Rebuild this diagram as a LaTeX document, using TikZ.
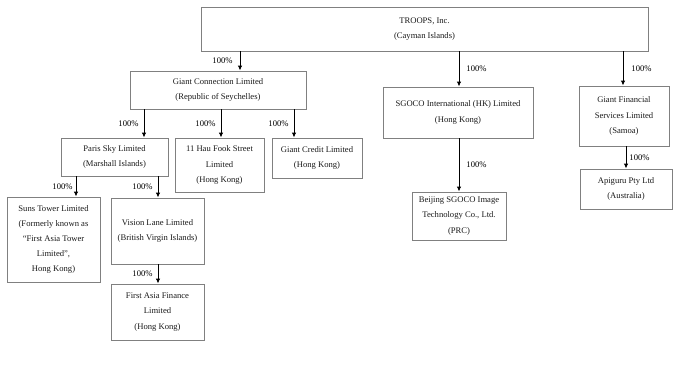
\documentclass[tikz,border=0pt]{standalone}
\usepackage{fontspec}
\setmainfont{Liberation Serif}
\usetikzlibrary{arrows.meta}
\begin{document}
\begin{tikzpicture}[x=1pt,y=-1pt,
  box/.style={draw=black!50, line width=0.9pt, rectangle, inner sep=0pt, align=center,
    font=\fontsize{8.6}{15.2}\selectfont, text=black!90},
  arr/.style={-{Latex[length=5pt,width=4.5pt]}, line width=0.9pt, black},
  lab/.style={font=\fontsize{8.6}{10}\selectfont, inner sep=0pt}]
\useasboundingbox (0,0) rectangle (677,380);
\node[box, minimum width=447, minimum height=44] (troops) at (424.5,29) {TROOPS, Inc.\\(Cayman Islands)};
\node[box, minimum width=176, minimum height=38] (gc) at (218,90) {Giant Connection Limited\\(Republic of Seychelles)};
\node[box, minimum width=107, minimum height=38] (paris) at (114.5,157) {Paris Sky Limited\\(Marshall Islands)};
\node[box, minimum width=89, minimum height=54] (hau) at (219.5,165) {11 Hau Fook Street\\Limited\\(Hong Kong)};
\node[box, minimum width=90, minimum height=40] (credit) at (317,158) {Giant Credit Limited\\(Hong Kong)};
\node[box, minimum width=93, minimum height=85] (suns) at (53.5,239.5) {Suns Tower Limited\\(Formerly known as\\``First Asia Tower\\Limited'',\\Hong Kong)};
\node[box, minimum width=93, minimum height=66] (vision) at (157.5,231) {Vision Lane Limited\\(British Virgin Islands)};
\node[box, minimum width=93, minimum height=56] (faf) at (157.5,312) {First Asia Finance\\Limited\\(Hong Kong)};
\node[box, minimum width=150, minimum height=51] (sgoco) at (458,112.5) {SGOCO International (HK) Limited\\(Hong Kong)};
\node[box, minimum width=94, minimum height=48] (beijing) at (459,216) {Beijing SGOCO Image\\Technology Co., Ltd.\\(PRC)};
\node[box, minimum width=90, minimum height=60] (gf) at (624,116) {Giant Financial\\Services Limited\\(Samoa)};
\node[box, minimum width=92, minimum height=40] (api) at (626,189) {Apiguru Pty Ltd\\(Australia)};
% arrow columns
\coordinate (c1) at (240,0);
\coordinate (c2) at (144,0);
\coordinate (c3) at (221,0);
\coordinate (c4) at (294,0);
\coordinate (c5) at (76,0);
\coordinate (c6) at (158,0);
\coordinate (c7) at (459,0);
\coordinate (c8) at (623,0);
\coordinate (c9) at (626,0);
\draw[arr] (troops.south -| c1) -- node[lab, left=7pt] {100\%} (gc.north -| c1);
\draw[arr] (gc.south -| c2) -- node[lab, left=5pt] {100\%} (paris.north -| c2);
\draw[arr] (gc.south -| c3) -- node[lab, left=5pt] {100\%} (hau.north -| c3);
\draw[arr] (gc.south -| c4) -- node[lab, left=5pt] {100\%} (credit.north -| c4);
\draw[arr] (paris.south -| c5) -- node[lab, left=3pt] {100\%} (suns.north -| c5);
\draw[arr] (paris.south -| c6) -- node[lab, left=5pt] {100\%} (vision.north -| c6);
\draw[arr] (vision.south -| c6) -- node[lab, left=5pt] {100\%} (faf.north -| c6);
\draw[arr] (troops.south -| c7) -- node[lab, right=7pt] {100\%} (sgoco.north -| c7);
\draw[arr] (sgoco.south -| c7) -- node[lab, right=7pt] {100\%} (beijing.north -| c7);
\draw[arr] (troops.south -| c8) -- node[lab, right=8pt] {100\%} (gf.north -| c8);
\draw[arr] (gf.south -| c9) -- node[lab, right=3pt] {100\%} (api.north -| c9);
\end{tikzpicture}
\end{document}
